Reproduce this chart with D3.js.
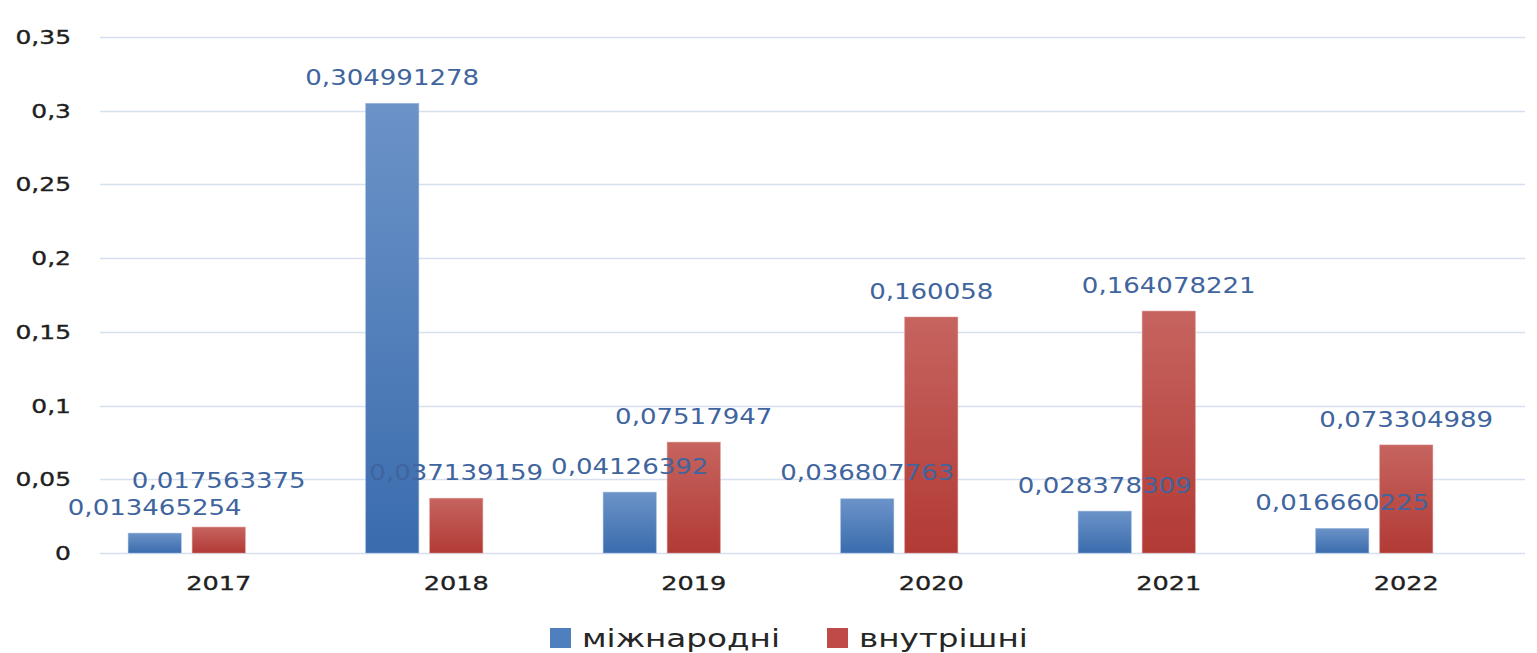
<!DOCTYPE html>
<html>
<head>
<meta charset="utf-8">
<script src="https://cdn.jsdelivr.net/npm/d3@7/dist/d3.min.js"></script>
<style>
  html, body { margin: 0; padding: 0; background: #ffffff; }
  svg { display: block; }
  text { font-family: "DejaVu Sans", sans-serif; }
</style>
</head>
<body>
<svg id="chart" width="1537" height="653"></svg>
<script>
const years = ["2017", "2018", "2019", "2020", "2021", "2022"];
const intlValues = [0.013465254, 0.304991278, 0.04126392, 0.036807763, 0.028378309, 0.016660225];
const domValues = [0.017563375, 0.037139159, 0.07517947, 0.160058, 0.164078221, 0.073304989];
const yTickValues = [0, 0.05, 0.1, 0.15, 0.2, 0.25, 0.3, 0.35];
const seriesNames = ["міжнародні", "внутрішні"];

const W = 1537, H = 653;
const plot = { left: 100, right: 1525, top: 37, bottom: 553 };
const HS = 1.28; // horizontal stretch of text

const svg = d3.select("#chart");
const defs = svg.append("defs");

function grad(id, top, bottom) {
  const g = defs.append("linearGradient").attr("id", id)
    .attr("x1", 0).attr("y1", 0).attr("x2", 0).attr("y2", 1);
  g.append("stop").attr("offset", "0%").attr("stop-color", top);
  g.append("stop").attr("offset", "100%").attr("stop-color", bottom);
}
grad("gBlue", "#6C93C8", "#3A6CAD");
grad("gRed", "#C6645F", "#B23A35");
const fills = ["url(#gBlue)", "url(#gRed)"];
const legendFills = ["#4F7FBE", "#BE4B48"];

const x0 = d3.scaleBand().domain(years).range([plot.left, plot.right]).padding(0);
const x1 = d3.scaleBand().domain([0, 1, 2]).range([0, x0.bandwidth()])
  .paddingInner(0.17).paddingOuter(0.44);
const y = d3.scaleLinear().domain([0, 0.35]).range([plot.bottom, plot.top]);

const loc = d3.formatLocale({ decimal: ",", thousands: " ", grouping: [3], currency: ["", ""] });
const tickFmt = loc.format(".2~f");

// gridlines
svg.append("g").selectAll("line").data(yTickValues).join("line")
  .attr("x1", plot.left).attr("x2", plot.right)
  .attr("y1", d => Math.round(y(d)) + 0.5).attr("y2", d => Math.round(y(d)) + 0.5)
  .attr("stroke", "#D6E0F0").attr("stroke-width", 1.3);

// y tick labels
svg.append("g").selectAll("text").data(yTickValues).join("text")
  .attr("transform", d => `translate(${71},${y(d)}) scale(${HS},1)`)
  .attr("text-anchor", "end").attr("dy", "0.36em")
  .attr("font-size", 19.5).attr("fill", "#1f1f1f")
  .attr("stroke", "#1f1f1f").attr("stroke-width", 0.35)
  .text(d => tickFmt(d));

// x labels
svg.append("g").selectAll("text").data(years).join("text")
  .attr("transform", d => `translate(${x0(d) + x0.bandwidth() / 2},${583}) scale(${HS},1)`)
  .attr("text-anchor", "middle").attr("dy", "0.36em")
  .attr("font-size", 20).attr("fill", "#1f1f1f")
  .attr("stroke", "#1f1f1f").attr("stroke-width", 0.35)
  .text(d => d);

// bars
const series = [intlValues, domValues];
const barData = [];
years.forEach((yr, i) => {
  series.forEach((vals, s) => {
    barData.push({ year: yr, s, v: vals[i] });
  });
});

svg.append("g").selectAll("rect").data(barData).join("rect")
  .attr("x", d => x0(d.year) + x1(d.s))
  .attr("width", x1.bandwidth())
  .attr("y", d => y(d.v))
  .attr("height", d => y(0) - y(d.v))
  .attr("fill", d => fills[d.s])
  .attr("stroke", d => d.s === 0 ? "#8FB0DA" : "#D88A86")
  .attr("stroke-width", 0.8)
  .attr("stroke-opacity", 0.6);

// data labels with simple overlap avoidance
const labelOffset = 26, lineGap = 27;
barData.forEach(d => { d.lx = x0(d.year) + x1(d.s) + x1.bandwidth() / 2; d.ly = y(d.v) - labelOffset; });
years.forEach(yr => {
  const b = barData.find(d => d.year === yr && d.s === 0);
  const r = barData.find(d => d.year === yr && d.s === 1);
  if (Math.abs(b.ly - r.ly) < lineGap) {
    if (r.ly <= b.ly) r.ly = b.ly - lineGap; else b.ly = r.ly - lineGap;
  }
});

svg.append("g").selectAll("text").data(barData).join("text")
  .attr("transform", d => `translate(${d.lx},${d.ly}) scale(1.24,1)`)
  .attr("text-anchor", "middle").attr("dy", "0.36em")
  .attr("font-size", 21).attr("fill", "#40649E")
  .text(d => String(d.v).replace(".", ","));

// legend
const lg = svg.append("g");
const legendX = [550, 827];
seriesNames.forEach((n, i) => {
  lg.append("rect").attr("x", legendX[i]).attr("y", 628).attr("width", 21).attr("height", 20)
    .attr("fill", legendFills[i]);
  lg.append("text")
    .attr("transform", `translate(${legendX[i] + 32},${647}) scale(${HS},1)`)
    .attr("font-size", 25.5).attr("fill", "#262626")
    .text(n);
});
</script>
</body>
</html>
